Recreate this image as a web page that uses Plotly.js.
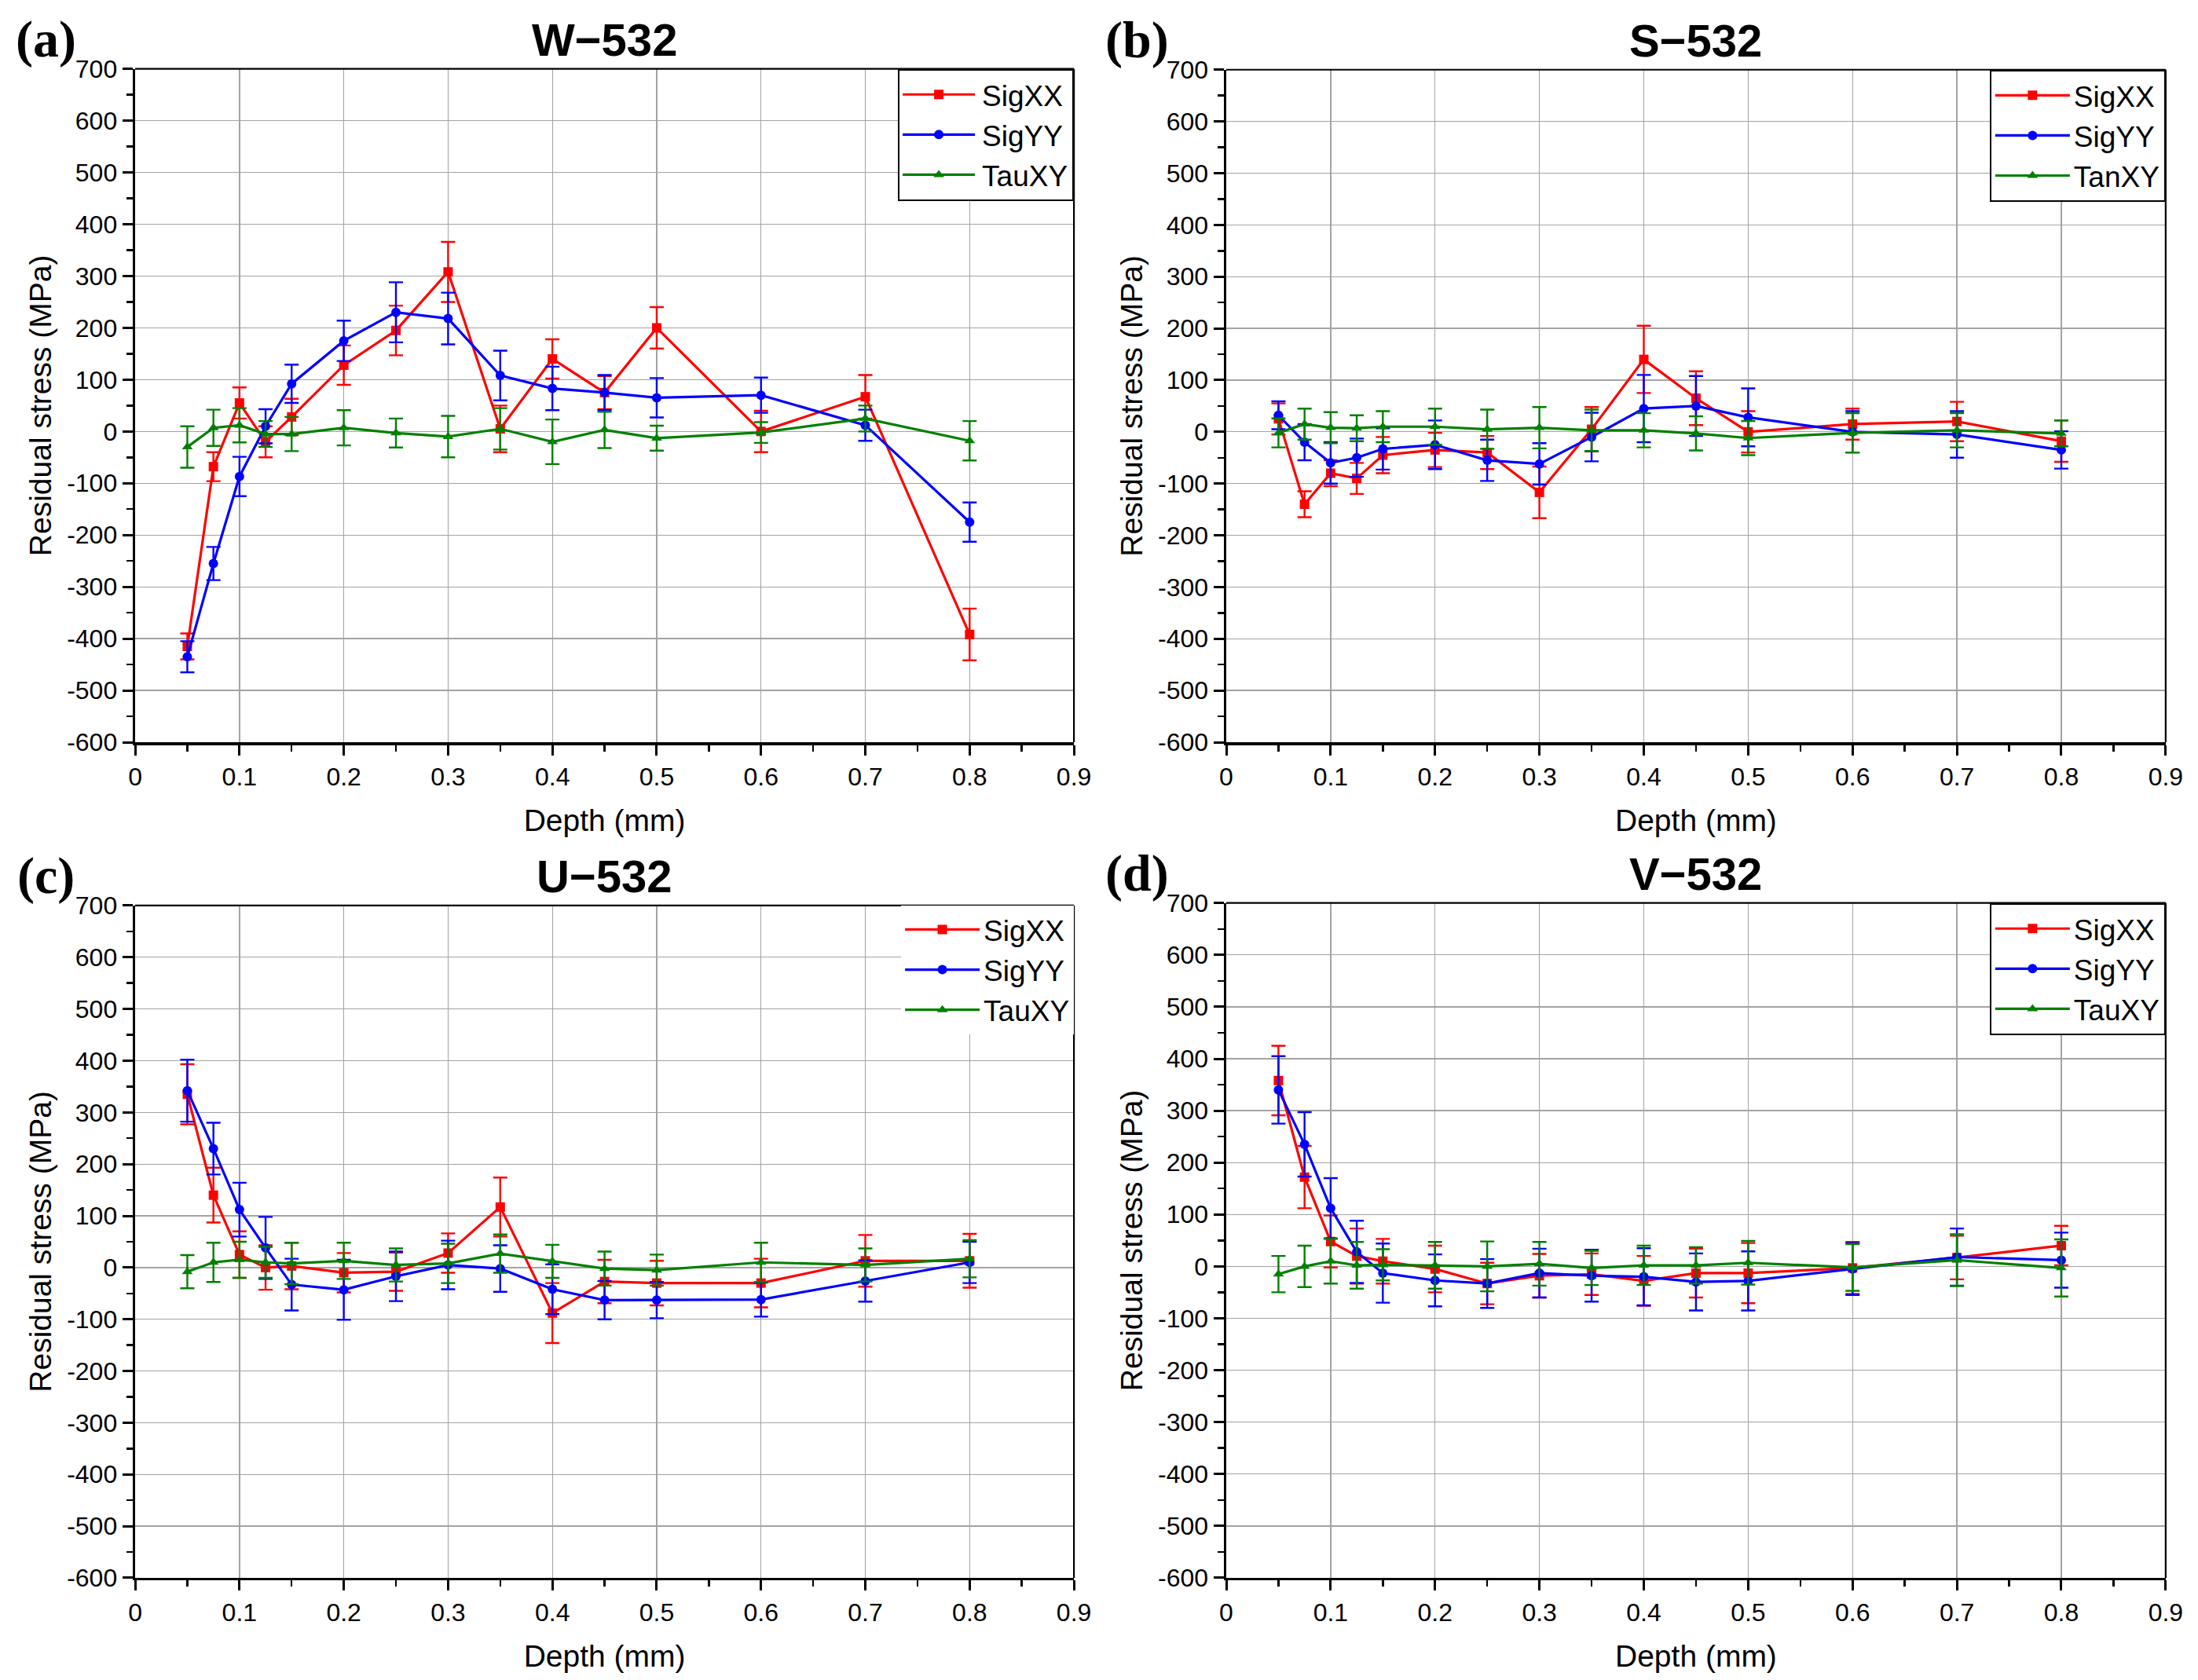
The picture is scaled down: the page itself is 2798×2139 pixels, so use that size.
<!DOCTYPE html>
<html>
<head>
<meta charset="utf-8">
<script src="https://cdn.plot.ly/plotly-3.0.1.min.js"></script>
<style>html,body{margin:0;padding:0;background:#fff;}#chart{width:2798px;height:2139px;}</style>
</head>
<body>
<div id="chart"></div>
<script>
// ---------- data ----------
const depth = [0.05, 0.075, 0.1, 0.125, 0.15, 0.2, 0.25, 0.3, 0.35, 0.4, 0.45, 0.5, 0.6, 0.7, 0.8];

const panelTitles = ["W\u2212532", "S\u2212532", "U\u2212532", "V\u2212532"];
const panelLetters = ["(a)", "(b)", "(c)", "(d)"];
const seriesNamesA = ["SigXX", "SigYY", "TauXY"];
const seriesNamesB = ["SigXX", "SigYY", "TanXY"];

// W-532
const W_sigxx = [-415, -68, 55, -20, 28, 128, 195, 308, 5, 140, 75, 200, 0, 67, -392];
const W_sigxx_err = [25, 28, 30, 30, 35, 38, 48, 58, 45, 38, 32, 40, 40, 42, 50];
const W_sigyy = [-435, -255, -87, 10, 92, 175, 230, 218, 108, 83, 75, 65, 70, 12, -175];
const W_sigyy_err = [30, 32, 38, 33, 37, 39, 58, 50, 48, 42, 34, 38, 34, 30, 38];
const W_tauxy = [-30, 7, 12, -5, -5, 7, -3, -10, 5, -20, 3, -13, -2, 25, -18];
const W_tauxy_err = [40, 35, 33, 25, 33, 34, 28, 40, 40, 43, 35, 24, 20, 25, 38];

// S-532
const S_sigxx = [25, -140, -80, -90, -45, -35, -40, -117, 5, 140, 65, 0, 15, 20, -18];
const S_sigxx_err = [30, 25, 25, 30, 35, 33, 32, 50, 43, 65, 52, 40, 30, 38, 40];
const S_sigyy = [32, -20, -60, -50, -33, -25, -55, -62, -10, 45, 50, 28, 0, -5, -35];
const S_sigyy_err = [27, 35, 40, 37, 40, 47, 40, 40, 47, 65, 58, 56, 40, 45, 36];
const S_tanxy = [-2, 15, 8, 7, 10, 10, 5, 8, 3, 3, -3, -12, -2, 3, -3];
const S_tanxy_err = [28, 30, 30, 25, 30, 35, 38, 40, 40, 33, 33, 33, 38, 33, 25];

// U-532
const U_sigxx = [335, 140, 25, 0, 3, -10, -8, 28, 117, -88, -27, -30, -30, 13, 13];
const U_sigxx_err = [58, 53, 45, 43, 45, 38, 37, 38, 57, 58, 42, 43, 47, 50, 52];
const U_sigyy = [342, 230, 112, 38, -33, -43, -17, 5, -2, -42, -63, -63, -62, -26, 10];
const U_sigyy_err = [60, 50, 52, 60, 50, 58, 48, 47, 45, 48, 37, 35, 33, 40, 40];
const U_tauxy = [-8, 10, 15, 10, 8, 13, 5, 8, 27, 12, -2, -5, 10, 5, 17];
const U_tauxy_err = [32, 38, 35, 30, 40, 35, 32, 38, 37, 32, 33, 30, 38, 32, 36];

// V-532
const V_sigxx = [358, 172, 48, 20, 10, -5, -33, -18, -15, -28, -13, -13, -3, 17, 40];
const V_sigxx_err = [67, 60, 50, 53, 43, 45, 40, 42, 40, 48, 47, 58, 50, 42, 38];
const V_sigyy = [340, 235, 112, 28, -13, -27, -33, -13, -18, -20, -30, -28, -5, 18, 12];
const V_sigyy_err = [65, 62, 58, 60, 57, 50, 47, 47, 50, 55, 55, 57, 50, 55, 53];
const V_tauxy = [-15, 0, 10, 2, 3, 2, 0, 5, -3, 2, 2, 7, -2, 12, -3];
const V_tauxy_err = [35, 40, 43, 45, 30, 45, 48, 42, 33, 38, 35, 42, 45, 50, 55];

const yTickVals = [700, 600, 500, 400, 300, 200, 100, 0, -100, -200, -300, -400, -500, -600];
const yTickText = ["700", "600", "500", "400", "300", "200", "100", "0", "-100", "-200", "-300", "-400", "-500", "-600"];
const xTickVals = [0, 0.1, 0.2, 0.3, 0.4, 0.5, 0.6, 0.7, 0.8, 0.9];
const xTickText = ["0", "0.1", "0.2", "0.3", "0.4", "0.5", "0.6", "0.7", "0.8", "0.9"];

// ---------- styling ----------
const colors = ["#ff0000", "#0000ff", "#008000"];
const symbols = ["square", "circle", "triangle-up"];
const FONT = "Liberation Sans, Arial, sans-serif";

const panels = [
  {vals: [W_sigxx, W_sigyy, W_tauxy], errs: [W_sigxx_err, W_sigyy_err, W_tauxy_err], names: seriesNamesA,
   xd: [0.0615, 0.4886], yd: [0.5582, 0.9590], border: true},
  {vals: [S_sigxx, S_sigyy, S_tanxy], errs: [S_sigxx_err, S_sigyy_err, S_tanxy_err], names: seriesNamesB,
   xd: [0.5579, 0.9853], yd: [0.5582, 0.9585], border: true},
  {vals: [U_sigxx, U_sigyy, U_tauxy], errs: [U_sigxx_err, U_sigyy_err, U_tauxy_err], names: seriesNamesA,
   xd: [0.0615, 0.4886], yd: [0.0608, 0.4610], border: false},
  {vals: [V_sigxx, V_sigyy, V_tauxy], errs: [V_sigxx_err, V_sigyy_err, V_tauxy_err], names: seriesNamesA,
   xd: [0.5579, 0.9853], yd: [0.0608, 0.4625], border: true}
];

const traces = [];
const layout = {
  width: 2798, height: 2139,
  margin: {l: 0, r: 0, t: 0, b: 0},
  paper_bgcolor: "#ffffff", plot_bgcolor: "#ffffff",
  font: {family: FONT, color: "#000"},
  showlegend: true,
  annotations: [], shapes: []
};

panels.forEach((p, i) => {
  const n = i + 1;
  const xa = n === 1 ? "x" : "x" + n;
  const ya = n === 1 ? "y" : "y" + n;
  const lg = n === 1 ? "legend" : "legend" + n;
  for (let s = 0; s < 3; s++) {
    traces.push({
      x: depth, y: p.vals[s], name: p.names[s],
      type: "scatter", mode: "lines+markers",
      xaxis: xa, yaxis: ya, legend: lg,
      line: {color: colors[s], width: 3.2},
      marker: {symbol: symbols[s], size: 12, color: colors[s]},
      error_y: {type: "data", array: p.errs[s], visible: true, color: colors[s], thickness: 2.4, width: 9}
    });
  }
  const xKey = n === 1 ? "xaxis" : "xaxis" + n;
  const yKey = n === 1 ? "yaxis" : "yaxis" + n;
  layout[xKey] = {
    domain: p.xd, anchor: ya, range: [0, 0.9],
    tickmode: "array", tickvals: xTickVals, ticktext: xTickText,
    ticks: "outside", ticklen: 13, tickwidth: 3, tickcolor: "#000",
    minor: {tickmode: "linear", tick0: 0, dtick: 0.05, ticks: "outside", ticklen: 8, tickwidth: 2.5, tickcolor: "#000", showgrid: false},
    showline: true, linecolor: "#000", linewidth: 3.5,
    showgrid: true, gridcolor: "#a3a3a3", gridwidth: 1.3,
    zeroline: false, automargin: false,
    tickfont: {family: FONT, size: 32, color: "#000"},
    title: {text: "Depth (mm)", font: {family: FONT, size: 39, color: "#000"}, standoff: 26}
  };
  layout[yKey] = {
    domain: p.yd, anchor: xa, range: [-600, 700],
    tickmode: "array", tickvals: yTickVals, ticktext: yTickText,
    ticks: "outside", ticklen: 13, tickwidth: 3, tickcolor: "#000",
    minor: {tickmode: "linear", tick0: 0, dtick: 50, ticks: "outside", ticklen: 8, tickwidth: 2.5, tickcolor: "#000", showgrid: false},
    showline: true, linecolor: "#000", linewidth: 3.5,
    showgrid: true, gridcolor: "#a3a3a3", gridwidth: 1.3,
    zeroline: false, automargin: false,
    tickfont: {family: FONT, size: 32, color: "#000"},
    title: {text: "Residual stress (MPa)", font: {family: FONT, size: 39, color: "#000"}, standoff: 8}
  };
  layout[lg] = {
    x: p.xd[1], xanchor: "right", y: p.yd[1], yanchor: "top",
    bgcolor: "#ffffff",
    bordercolor: "#000", borderwidth: p.border ? 2 : 0,
    font: {family: FONT, size: 37, color: "#000"},
    itemwidth: 95, tracegroupgap: 0
  };
  // top and right frame lines
  layout.shapes.push({type: "line", xref: xa + " domain", yref: ya + " domain", x0: 0, x1: 1, y0: 1, y1: 1, line: {color: "#000", width: 2.2}, layer: "above"});
  layout.shapes.push({type: "line", xref: xa + " domain", yref: ya + " domain", x0: 1, x1: 1, y0: 0, y1: 1, line: {color: "#000", width: 2.2}, layer: "above"});
  // title
  layout.annotations.push({
    text: "<b>" + panelTitles[i] + "</b>", xref: "paper", yref: "paper",
    x: (p.xd[0] + p.xd[1]) / 2, y: p.yd[1] + 0.0175, xanchor: "center", yanchor: "middle",
    showarrow: false, font: {family: FONT, size: 58, color: "#000"}
  });
  // panel letter
  layout.annotations.push({
    text: "<b>" + panelLetters[i] + "</b>", xref: "paper", yref: "paper",
    x: p.xd[0] - 0.0405, y: p.yd[1] + 0.0175, xanchor: "center", yanchor: "middle",
    showarrow: false, font: {family: "Liberation Serif, Times New Roman, serif", size: 66, color: "#000"}
  });
});

Plotly.newPlot("chart", traces, layout, {staticPlot: true, responsive: false, displayModeBar: false}).then(() => {
  // lengthen legend line samples to match the reference style
  document.querySelectorAll(".legend .legendlines path").forEach(el => el.setAttribute("d", "M4,0h92"));
  document.querySelectorAll(".legend .legendsymbols .legendpoints path").forEach(el => el.setAttribute("transform", "translate(50,0)"));
});
</script>
</body>
</html>
